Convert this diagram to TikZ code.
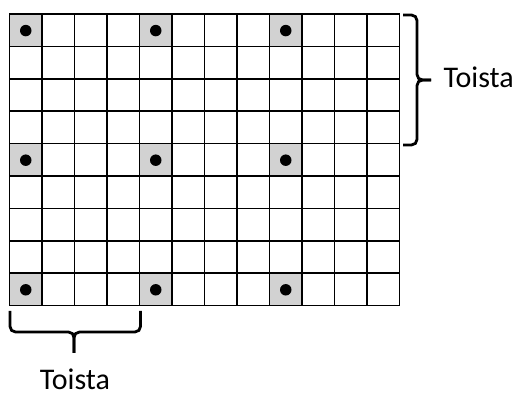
\documentclass[tikz,border=0pt]{standalone}
\usepackage{fontspec}
\setmainfont{Carlito}
\usepackage{tikz}

\begin{document}
\begin{tikzpicture}[x=1pt, y=-1pt]
			\useasboundingbox (0,0) rectangle (520,398);
			\tikzset{gridline/.style={line width=1.7pt, line cap=rect},
				bracket/.style={line width=2.8pt, rounded corners=5.5pt},
				label/.style={font=\fontsize{30}{36}\selectfont, inner sep=0pt}}
			
			\foreach \i in {0,4,8} {
				\foreach \j in {0,4,8} {
					\fill[gray!35] (9.5+32.5*\i, 14+32.4*\j) rectangle ++(32.5,32.4);
				}
			}
			
			\foreach \i in {0,...,12}
				\draw[gridline] (9.5+32.5*\i, 14) -- (9.5+32.5*\i, 305.6);
			\foreach \j in {0,...,9}
				\draw[gridline] (9.5, 14+32.4*\j) -- (399.5, 14+32.4*\j);
			
			\foreach \i in {0,4,8} {
				\foreach \j in {0,4,8} {
					\node[circle, fill, inner sep=0pt, minimum size=11.5pt] (dot-\i-\j) at (25.75+32.5*\i, 30.6+32.4*\j) {};
				}
			}
			
			\coordinate (rtop) at (403,15);
			\coordinate (rbot) at (403,145);
			\coordinate (rtip) at (431,80);
			\draw[bracket] (rtop) -| (417,80) -- (rtip);
			\draw[bracket] (rbot) -| (417,80) -- (rtip);
			
			\coordinate (bleft) at (10,311);
			\coordinate (bright) at (140.5,311);
			\coordinate (btip) at (74,353);
			\draw[bracket] (bleft) |- (74,332) -- (btip);
			\draw[bracket] (bright) |- (74,332) -- (btip);
			
			\node[label, anchor=base west] (toista1) at (443.5,88) {Toista};
			\node[label, anchor=base] (toista2) at (75,389) {Toista};
		\end{tikzpicture}
\end{document}
